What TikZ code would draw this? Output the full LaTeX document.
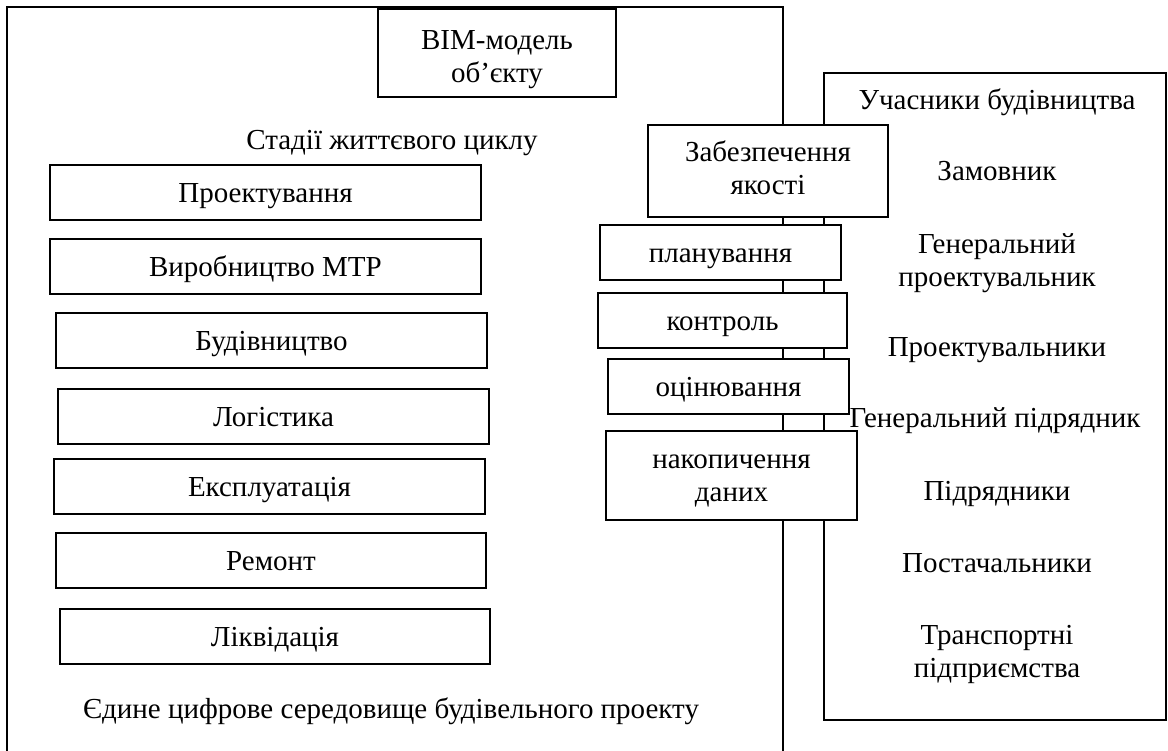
\documentclass[tikz,border=0pt]{standalone}
\usepackage{fontspec}
\setmainfont{Liberation Serif}
% two centred lines, baseline on the first one
\newcommand{\stacktwo}[2]{\begin{tabular}[t]{@{}c@{}}#1\\#2\end{tabular}}
\begin{document}
\begin{tikzpicture}[x=1pt,y=-1pt,
  every node/.style={font=\fontsize{29}{33}\selectfont, inner sep=0pt},
  frame/.style={line width=1.9pt},
  box/.style={draw, line width=1.9pt, fill=white, inner sep=0pt},
  onebox/.style={box, text height=37.5pt, text depth=17.5pt},
  stage/.style={onebox, minimum width=431pt},
  lbl/.style={anchor=base}]
\useasboundingbox (0,0) rectangle (1168,751);
% containers: digital environment (open at the bottom) and participants
\coordinate (envbl) at (7,751);
\coordinate (envtl) at (7,7);
\coordinate (envtr) at (783,7);
\coordinate (envbr) at (783,751);
\draw[frame] (envbl) -- (envtl) -- (envtr) -- (envbr);
\coordinate (partnw) at (824,73);
\coordinate (partse) at (1166,720);
\draw[frame] (partnw) rectangle (partse);

% BIM model
\node[box, minimum width=238pt, text height=41pt, text depth=47pt] (bim) at (497,53)
  {\stacktwo{BIM-модель}{об’єкту}};
\node[lbl] (stages) at (392,150) {Стадії життєвого циклу};

% life-cycle stages
\node[stage] (proj) at (265.5,192.5) {Проектування};
\node[stage] (vyr)  at (265.5,266.5) {Виробництво МТР};
\node[stage] (bud)  at (271.5,340.5) {Будівництво};
\node[stage] (log)  at (273.5,416.5) {Логістика};
\node[stage] (eks)  at (269.5,486.5) {Експлуатація};
\node[stage, minimum width=430pt] (rem)  at (271,560.5) {Ремонт};
\node[stage, minimum width=430pt] (likv) at (275,636.5) {Ліквідація};
\node[lbl] (env) at (391,718) {Єдине цифрове середовище будівельного проекту};

% quality assurance blocks
\node[box, minimum width=240pt, text height=37pt, text depth=55pt] (qa) at (768,171)
  {\stacktwo{Забезпечення}{якості}};
\node[onebox, minimum width=241pt] (plan) at (720.5,252.5) {планування};
\node[onebox, minimum width=249pt] (ctrl) at (722.5,320.5) {контроль};
\node[onebox, minimum width=241pt] (eval) at (728.5,386.5) {оцінювання};
\node[box, minimum width=251pt, text height=37pt, text depth=52pt] (data) at (731.5,475.5)
  {\stacktwo{накопичення}{даних}};

% construction participants
\node[lbl] (p0) at (997,110) {Учасники будівництва};
\node[lbl] (p1) at (997,181) {Замовник};
\node[lbl] (p2) at (997,254) {\stacktwo{Генеральний}{проектувальник}};
\node[lbl] (p3) at (997,357) {Проектувальники};
\node[lbl] (p4) at (995,428) {Генеральний підрядник};
\node[lbl] (p5) at (997,500) {Підрядники};
\node[lbl] (p6) at (997,572) {Постачальники};
\node[lbl] (p7) at (997,644) {\stacktwo{Транспортні}{підприємства}};
\end{tikzpicture}
\end{document}
